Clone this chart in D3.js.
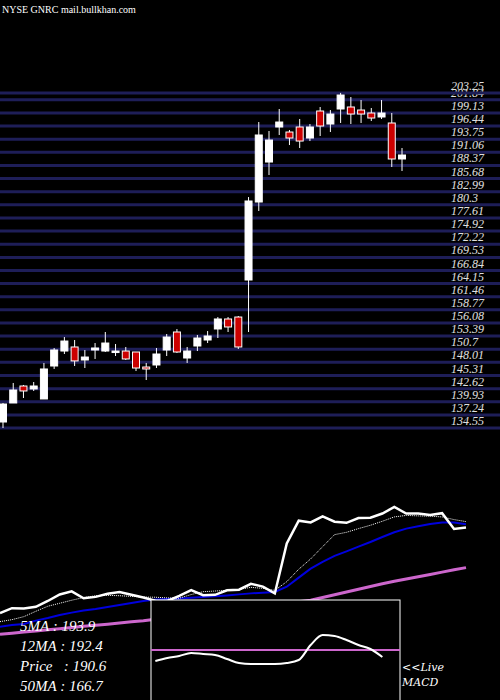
<!DOCTYPE html>
<html><head><meta charset="utf-8">
<script src="https://cdn.jsdelivr.net/npm/d3@7"></script>
<style>body{margin:0;background:#000}svg{display:block}</style></head>
<body><svg id="c" width="500" height="700"></svg>
<script>
const opens  = [135.78,139.68,143.16,142.55,140.5,147.26,150.33,151.16,148.49,150.54,150.33,150.13,150.33,150.13,147.05,147.47,150.54,154.23,148.9,151.36,152.59,154.85,156.9,157.3,164.89,180.88,189.08,196.26,195.23,196.26,194.0,199.54,196.87,199.95,200.36,199.74,199.13,198.31,197.08,189.7];
const closes = [139.47,142.34,142.14,143.16,146.65,150.54,152.38,148.3,149.1,150.95,151.97,150.33,148.7,146.85,146.65,149.72,153.2,150.13,150.33,153.0,153.41,156.9,155.26,151.16,181.09,194.62,193.59,197.28,194.0,193.38,196.26,196.46,198.92,202.82,198.92,198.92,198.1,199.13,189.7,190.52];
const highs  = [139.68,143.78,143.37,143.98,147.88,150.95,153.2,152.59,150.54,151.97,154.23,151.77,151.16,150.13,147.88,150.95,153.82,154.84,151.16,153.62,154.43,157.3,157.3,157.51,181.9,197.28,195.44,199.95,195.64,197.9,196.87,200.36,199.74,203.25,202.41,201.79,200.15,201.79,199.13,191.95];
const lows   = [134.55,139.68,140.7,142.14,140.5,146.65,149.72,147.26,146.85,148.7,150.13,149.31,148.49,146.23,144.39,146.85,149.31,149.93,147.88,150.33,151.97,153.0,154.23,150.75,154.23,179.04,186.42,194.62,192.56,191.95,193.38,194.41,195.23,197.08,196.87,197.08,197.49,197.9,188.06,187.24];
const tickLabels = ["134.55","137.24","139.93","142.62","145.31","148.01","150.7","153.39","156.08","158.77","161.46","164.15","166.84","169.53","172.22","174.92","177.61","180.3","182.99","185.68","188.37","191.06","193.75","196.44","199.13","201.84","203.25"];
const ma5  = [134.3,135.5,137.3,140.5,143.5,145.3,147.1,148.7,149.8,150.0,149.8,149.4,149.0,148.9,148.5,148.3,150.5,152.2,152.6,153.0,153.6,154.8,154.2,153.0,158.2,165.6,171.8,179.1,186.3,187.7,189.9,191.9,194.3,196.9,197.8,197.5,197.3,196.9,195.3,194.1];
const ma12 = [131.3,132.3,132.9,134.9,136.5,138.3,139.7,140.9,141.9,143.1,144.3,145.5,146.7,147.5,147.9,148.2,148.6,149.0,149.5,150.0,150.6,151.2,151.6,152.0,155.2,160.6,166.0,170.0,173.6,176.3,179.1,181.9,184.9,187.7,189.9,191.3,192.7,193.5,193.5,192.5];
const ma50 = [126.7,127.4,128.1,128.7,129.4,130.1,130.8,131.5,132.2,132.8,133.5,134.2,134.9,135.8,136.6,137.5,138.4,139.3,140.1,141.0,141.9,142.8,143.6,144.5,145.4,146.2,147.1,148.7,150.4,152.0,153.7,155.3,157.0,158.4,159.8,161.1,162.5,163.9,165.3,166.6];
const macdIdx = [13,14,15,16,17,18,19,20,21,22,23,24,25,26,27,28,29,30,31,32];
const macdVal = [-11,-8,-6,-3,-4,-5,-9,-13,-14,-14,-14,-13,-10,5,15,14,10,5,1,-7];
const legend = ["5MA : 193.9","12MA : 192.4","Price   : 190.6","50MA : 166.7"];

const svg = d3.select("#c");
svg.append("rect").attr("width",500).attr("height",700).attr("fill","#000");
const n = closes.length;
const x = d3.scaleLinear().domain([0,n-1]).range([3,402]);
const y = d3.scaleLinear().domain([134.55,199.13]).range([428,113]);
const serif = "'DejaVu Serif','Liberation Serif',serif";

// grid + labels
tickLabels.forEach(t=>{
  const v=+t, yy=y(v);
  svg.append("line").attr("x1",0).attr("x2",500).attr("y1",yy).attr("y2",yy)
    .attr("stroke","#1e1e58").attr("stroke-width",3);
  svg.append("text").attr("x",451).attr("y",yy-3).text(t)
    .attr("fill","#e0e0e0").attr("font-family","'Liberation Serif',serif").attr("font-style","italic").attr("font-size",12);
});
svg.append("text").attr("x",2).attr("y",13).text("NYSE GNRC mail.bullkhan.com")
  .attr("fill","#fff").attr("font-family","'Liberation Serif',serif").attr("font-size",10);

// candles
d3.range(n).forEach(i=>{
  const up = closes[i]>=opens[i];
  svg.append("line").attr("x1",x(i)).attr("x2",x(i)).attr("y1",y(highs[i])).attr("y2",y(lows[i]))
    .attr("stroke","#fff").attr("stroke-width",1);
  const top=y(Math.max(opens[i],closes[i])), bot=y(Math.min(opens[i],closes[i]));
  svg.append("rect").attr("x",x(i)-3.5).attr("width",7).attr("y",top).attr("height",Math.max(1.5,bot-top))
    .attr("fill",up?"#fff":"#cc0000").attr("stroke","#fff").attr("stroke-width",1);
});

// indicator panel
const xi = d3.scaleLinear().domain([0,n-1]).range([0,466]);
const yi = d3.scaleLinear().domain([139.47,202.82]).range([613,507]);
const line = arr => d3.line().x((d,i)=>xi(i)).y(d=>yi(d))(arr);
svg.append("path").attr("d",line(ma50)).attr("fill","none").attr("stroke","#cc66cc").attr("stroke-width",3);
svg.append("path").attr("d",line(ma12)).attr("fill","none").attr("stroke","#0000dd").attr("stroke-width",2);
svg.append("path").attr("d",line(ma5)).attr("fill","none").attr("stroke","#fff").attr("stroke-width",1).attr("stroke-dasharray","1,1");
svg.append("path").attr("d",line(closes)).attr("fill","none").attr("stroke","#fff").attr("stroke-width",2.5);

// MACD box
svg.append("rect").attr("x",151).attr("y",600).attr("width",249).attr("height",105)
  .attr("fill","#000").attr("stroke","#fff").attr("stroke-width",1);
const ym = d3.scaleLinear().domain([0,10]).range([650,640]);
svg.append("line").attr("x1",151).attr("x2",400).attr("y1",ym(0)).attr("y2",ym(0)).attr("stroke","#cc66cc").attr("stroke-width",2);
svg.append("path").attr("d",d3.line().curve(d3.curveMonotoneX).x((d,k)=>Math.max(151,xi(macdIdx[k]))).y(d=>ym(d))(macdVal))
  .attr("fill","none").attr("stroke","#fff").attr("stroke-width",2);
svg.append("text").attr("x",402).attr("y",671).text("<<Live").attr("fill","#fff").attr("font-family",serif).attr("font-style","italic").attr("font-size",11);
svg.append("text").attr("x",402).attr("y",686).text("MACD").attr("fill","#fff").attr("font-family",serif).attr("font-style","italic").attr("font-size",11);

legend.forEach((t,k)=>{
  svg.append("text").attr("x",20).attr("y",631+k*20).text(t).attr("xml:space","preserve").style("white-space","pre")
    .attr("fill","#fff").attr("font-family","'Liberation Serif',serif").attr("font-style","italic").attr("font-size",15);
});
</script></body></html>
